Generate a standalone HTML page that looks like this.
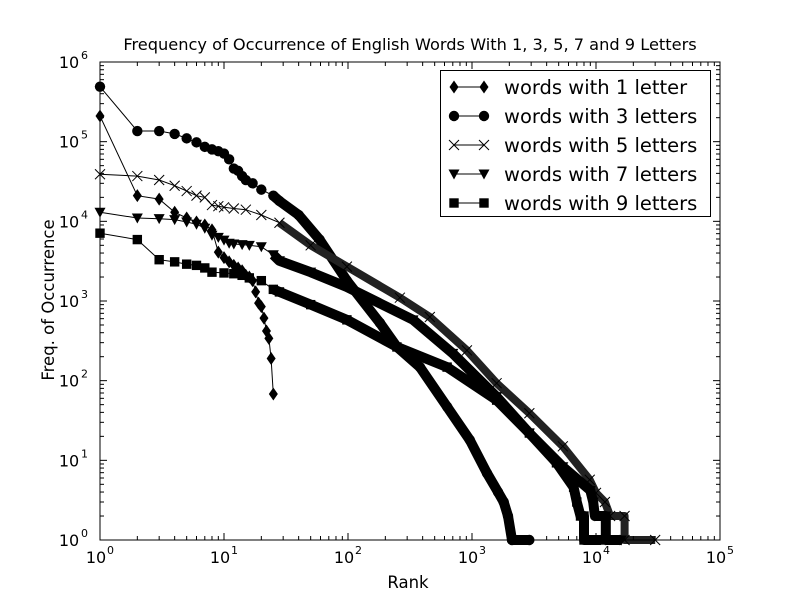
<!DOCTYPE html>
<html><head><meta charset="utf-8"><style>
html,body{margin:0;padding:0;background:#fff;}
svg{display:block;font-family:"DejaVu Sans","Liberation Sans",sans-serif;}
</style></head><body>
<svg id="chart" width="800" height="600" viewBox="0 0 800 600">
<rect width="800" height="600" fill="#fff"/>
<text x="410" y="50" font-size="16.2" text-anchor="middle">Frequency of Occurrence of English Words With 1, 3, 5, 7 and 9 Letters</text>
<text x="408" y="588" font-size="16.5" text-anchor="middle">Rank</text>
<text transform="translate(54,300) rotate(-90)" font-size="16.5" text-anchor="middle">Freq. of Occurrence</text>
<g id="plot"></g>
<g id="axes"></g>
<g id="legend"></g>
</svg>
<script>
const xDecades = [0,1,2,3,4,5];
const yDecades = [0,1,2,3,4,5,6];
const seriesNames = ["words with 1 letter","words with 3 letters","words with 5 letters","words with 7 letters","words with 9 letters"];
const seriesMarkers = ["diamond","circle","x","tri","square"];
const ranks1 = [1,2,3,4,5,6,7,8,9,10,11,12,13,14,15,16,17,18,19,20,21,22,23,24,25];
const freqs1 = [2.1e5,2.1e4,1.9e4,1.3e4,1.1e4,9.8e3,9e3,7.8e3,4.1e3,3.5e3,3.1e3,2.8e3,2.6e3,2.4e3,2.1e3,2.0e3,1.8e3,1.3e3,940,850,610,420,340,190,68];
const ranks3 = [1,2,3,4,5,6,7,8,9,10,11,12,13,14,15,17,20,25,28,40,59,98,181,248,380,630,960,1320,1620,1800,1950,2100,2900];
const freqs3 = [4.9e5,1.36e5,1.36e5,1.25e5,1.1e5,9.8e4,8.6e4,8e4,7.6e4,7.1e4,6e4,4.6e4,4.3e4,3.7e4,3.3e4,3e4,2.5e4,2.1e4,1.8e4,1.2e4,5.9e3,1.8e3,530,265,148,47,18,6.9,4,3,2,1,1];
const ranks5 = [1,2,3,4,5,6,7,8,9,10,12,15,20,28,50,98,262,457,910,1580,2900,5400,8900,10000,11800,13000,17000,17000,30000];
const freqs5 = [3.9e4,3.7e4,3.3e4,2.8e4,2.4e4,2.1e4,2e4,1.6e4,1.55e4,1.5e4,1.45e4,1.4e4,1.2e4,9.6e3,5e3,2.7e3,1.1e3,630,240,93,39,15,5.7,3.9,3,2,2,1,1];
const ranks7 = [1,2,3,4,5,6,7,8,9,10,11,12,14,16,20,25,28,50,98,335,700,1580,2900,5400,9000,9500,9800,12000,12000,16000];
const freqs7 = [1.3e4,1.1e4,1.08e4,1.05e4,9.8e3,9.2e3,8.2e3,6.7e3,6.3e3,5.8e3,5.3e3,5.2e3,5.1e3,5e3,4.8e3,3.8e3,3.2e3,2.3e3,1.5e3,580,220,63,22,8.3,4.2,3,2,2,1,1];
const ranks9 = [1,2,3,4,5,6,7,8,10,12,14,16,20,25,28,50,98,248,630,1580,2900,4800,6600,7000,7500,8000,8000,11000];
const freqs9 = [7.1e3,5.9e3,3.3e3,3.1e3,2.9e3,2.8e3,2.6e3,2.3e3,2.25e3,2.2e3,2.1e3,1.95e3,1.8e3,1.4e3,1.3e3,900,580,265,148,57,22,9.3,4.6,3,2,2,1,1];
const seriesRanks = [ranks1,ranks3,ranks5,ranks7,ranks9];
const seriesFreqs = [freqs1,freqs3,freqs5,freqs7,freqs9];

const L=100,R=720,T=62,B=540;
const xs = r => L + (Math.log10(r)-0)/(5-0)*(R-L);
const ys = f => B - (Math.log10(f)-0)/(6-0)*(B-T);
const NS="http://www.w3.org/2000/svg";
function mk(tag, attrs, parent){const e=document.createElementNS(NS,tag);for(const k in attrs)e.setAttribute(k,attrs[k]);parent.appendChild(e);return e;}
function marker(type,x,y,parent){
  let e;
  if(type==="circle") e=mk("circle",{cx:x,cy:y,r:5.2,fill:"#000"},parent);
  else if(type==="square") e=mk("rect",{x:x-4.7,y:y-4.7,width:9.4,height:9.4,fill:"#000"},parent);
  else if(type==="diamond") e=mk("path",{d:`M${x},${y-6.5}L${x+4.5},${y}L${x},${y+6.5}L${x-4.5},${y}Z`,fill:"#000"},parent);
  else if(type==="tri") e=mk("path",{d:`M${x-5.5},${y-4.5}L${x+5.5},${y-4.5}L${x},${y+5.5}Z`,fill:"#000"},parent);
  else e=mk("path",{d:`M${x-5},${y-5}L${x+5},${y+5}M${x-5},${y+5}L${x+5},${y-5}`,stroke:"#000","stroke-width":1,fill:"none"},parent);
  return e;
}
const plot=document.getElementById("plot");
const clip=mk("clipPath",{id:"pc"},plot);mk("rect",{x:L-8,y:T,width:R-L+8,height:B-T+8},clip);
const pg=mk("g",{"clip-path":"url(#pc)"},plot);
seriesNames.forEach((nm,i)=>{
  const g=mk("g",{},pg);
  
  
  const rs=seriesRanks[i], fs=seriesFreqs[i];
  const pts=rs.map((r,j)=>xs(r).toFixed(1)+","+ys(fs[j]).toFixed(1)).join(" ");
  const line=mk("polyline",{points:pts,fill:"none",stroke:"#000","stroke-width":1},g);
  
  
  if(i>0){
    const tail=rs.map((r,j)=>[r,fs[j]]).filter(p=>p[0]>=25).map(p=>xs(p[0]).toFixed(1)+","+ys(p[1]).toFixed(1)).join(" ");
    const th=mk("polyline",{points:tail,fill:"none",stroke:i===2?"#222":"#000","stroke-width":i===2?8:10,"stroke-linejoin":"round"},g);
    
    
  }
  rs.forEach((r,j)=>{
    const m=marker(seriesMarkers[i],xs(r),ys(fs[j]),g);
    
    
  });
});
const ax=document.getElementById("axes");
const frame=mk("rect",{x:L,y:T,width:R-L,height:B-T,fill:"none",stroke:"#000","stroke-width":1},ax);


xDecades.forEach(d=>{
  const x=xs(Math.pow(10,d));
  mk("line",{x1:x,y1:B,x2:x,y2:B-7,stroke:"#000"},ax);mk("line",{x1:x,y1:T,x2:x,y2:T+7,stroke:"#000"},ax);
  const t=mk("text",{x:x-4,y:B+23,"font-size":16,"text-anchor":"middle"},ax);
  t.textContent="10";
  
  
  const s=mk("text",{x:x+7,y:B+14,"font-size":11},ax);s.textContent=d;
  if(d<5)for(let k=2;k<10;k++){const xm=xs(k*Math.pow(10,d));mk("line",{x1:xm,y1:B,x2:xm,y2:B-4,stroke:"#000"},ax);mk("line",{x1:xm,y1:T,x2:xm,y2:T+4,stroke:"#000"},ax);}
});
yDecades.forEach(d=>{
  const y=ys(Math.pow(10,d));
  mk("line",{x1:L,y1:y,x2:L+7,y2:y,stroke:"#000"},ax);mk("line",{x1:R,y1:y,x2:R-7,y2:y,stroke:"#000"},ax);
  const t=mk("text",{x:L-31,y:y+6,"font-size":16,"text-anchor":"middle"},ax);
  t.textContent="10";
  
  
  const s=mk("text",{x:L-19,y:y-3,"font-size":11},ax);s.textContent=d;
  if(d<6)for(let k=2;k<10;k++){const ym=ys(k*Math.pow(10,d));mk("line",{x1:L,y1:ym,x2:L+4,y2:ym,stroke:"#000"},ax);mk("line",{x1:R,y1:ym,x2:R-4,y2:ym,stroke:"#000"},ax);}
});
const lg=document.getElementById("legend");


mk("rect",{x:440.5,y:70.5,width:270,height:146,fill:"#fff",stroke:"#000"},lg);
seriesNames.forEach((nm,i)=>{
  const y=87+i*29;
  const g=mk("g",{},lg);
  
  
  mk("line",{x1:454,y1:y,x2:484,y2:y,stroke:"#000"},g);
  marker(seriesMarkers[i],454,y,g);marker(seriesMarkers[i],484,y,g);
  const t=mk("text",{x:504,y:y+7,"font-size":19.5},g);t.textContent=nm;
});
</script>
</body></html>
